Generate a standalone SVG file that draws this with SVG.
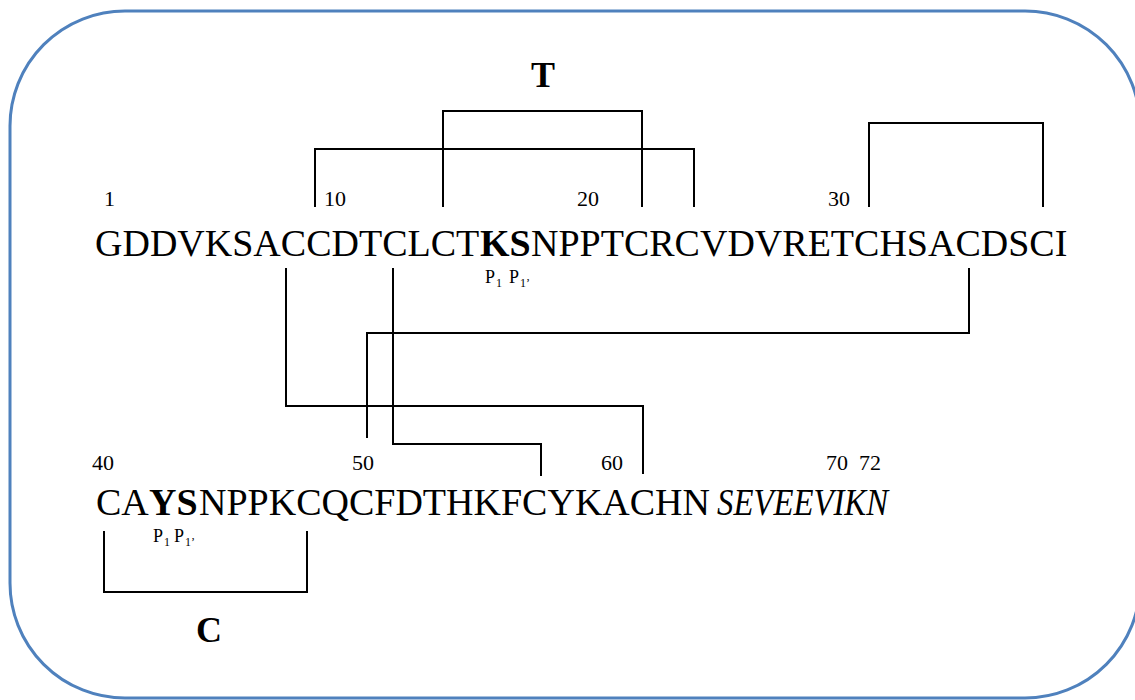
<svg xmlns="http://www.w3.org/2000/svg" width="1135" height="700" viewBox="0 0 1135 700">
  <style>
    .seq { font-family: "Liberation Serif", "Times New Roman", serif; font-size: 38px; fill: #000; }
    .num { font-family: "Liberation Serif", "Times New Roman", serif; font-size: 22px; fill: #000; }
    .lbl { font-family: "Liberation Serif", "Times New Roman", serif; font-size: 36px; font-weight: bold; fill: #000; }
    .p { font-family: "Liberation Serif", "Times New Roman", serif; font-size: 18px; fill: #000; }
    .sub { font-family: "Liberation Serif", "Times New Roman", serif; font-size: 12px; fill: #000; }
    .b { font-weight: bold; }
    .conn { fill: none; stroke: #000; stroke-width: 2; }
  </style>
  <rect id="frame" x="10" y="11" width="1130" height="687" rx="115" ry="115" fill="#fff" stroke="#4F81BD" stroke-width="3"/>

  <g id="connectors">
    <path class="conn" d="M315,207 V149 H694 V207"/>
    <path class="conn" d="M443,207 V111 H642 V207"/>
    <path class="conn" d="M869,207 V123 H1043 V207"/>
    <path class="conn" d="M286,268 V406 H643 V474"/>
    <path class="conn" d="M393,268 V444 H541 V476"/>
    <path class="conn" d="M969,268 V333 H367 V438"/>
    <path class="conn" d="M104,531 V592 H307 V531"/>
  </g>

  <g id="label-T">
    <text class="lbl" x="543" y="87" text-anchor="middle">T</text>
  </g>
  <g id="label-C">
    <text class="lbl" x="209" y="642" text-anchor="middle">C</text>
  </g>

  <g id="numbers-top">
    <text class="num" x="104" y="206">1</text>
    <text class="num" x="324" y="206">10</text>
    <text class="num" x="577" y="206">20</text>
    <text class="num" x="828" y="206">30</text>
  </g>

  <g id="sequence-top">
    <text class="seq" x="95" y="256">GDDVKSACCDTCLCT</text>
    <text class="seq b" x="480" y="256">KS</text>
    <text class="seq" x="531" y="256">NPPTCRCVDVRETCHSACDSCI</text>
  </g>

  <g id="cleavage-top">
    <text class="p" x="485" y="283">P</text>
    <text class="sub" x="496" y="287">1</text>
    <text class="p" x="509" y="283">P</text>
    <text class="sub" x="520" y="287">1’</text>
  </g>

  <g id="numbers-bottom">
    <text class="num" x="92" y="470">40</text>
    <text class="num" x="352" y="470">50</text>
    <text class="num" x="601" y="470">60</text>
    <text class="num" x="826" y="470">70</text>
    <text class="num" x="859" y="470">72</text>
  </g>

  <g id="sequence-bottom">
    <text class="seq" x="96" y="515">CA</text>
    <text class="seq b" x="149" y="515">YS</text>
    <text class="seq" x="199" y="515">NPPKCQCFDTHKFCYKACHN</text>
    <text class="seq" x="717" y="515" font-style="italic" textLength="171" lengthAdjust="spacingAndGlyphs">SEVEEVIKN</text>
  </g>

  <g id="cleavage-bottom">
    <text class="p" x="153" y="542">P</text>
    <text class="sub" x="164" y="546">1</text>
    <text class="p" x="174" y="542">P</text>
    <text class="sub" x="185" y="546">1’</text>
  </g>
</svg>
